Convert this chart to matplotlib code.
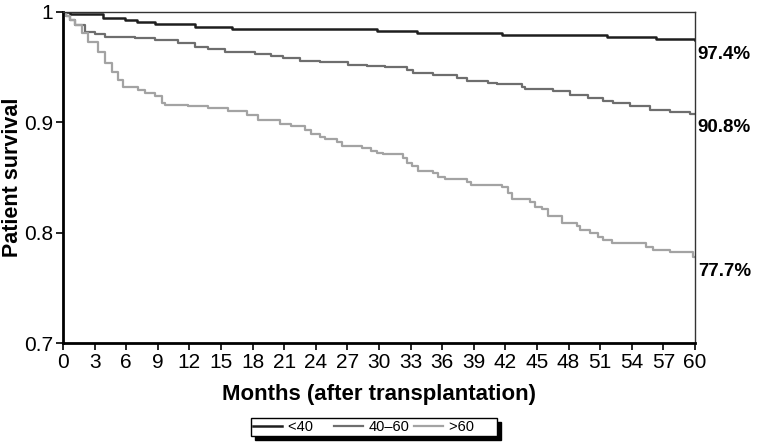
import matplotlib
matplotlib.use("Agg")
import matplotlib.pyplot as plt

plt.rcParams['font.family'] = ['Liberation Sans', 'DejaVu Sans']

# ---- data ----
groups = ["<40", "40\u201360", ">60"]

t_lt40 = [0, 0.66, 3.8, 5.9, 7.0, 8.7, 12.5, 16.0, 29.8, 33.6, 41.7, 51.6, 56.3, 60]
s_lt40 = [1.0, 0.9975, 0.9938, 0.9923, 0.9908, 0.9884, 0.9862, 0.9842, 0.9824, 0.9803,
          0.9787, 0.9767, 0.9748, 0.9745]

t_40_60 = [0, 0.3, 0.7, 1.14, 2.09, 3.04, 3.99, 6.84, 8.74, 10.9, 12.5, 13.8, 15.4, 18.2, 19.7,
           20.9, 22.5, 24.4, 27.1, 28.9, 30.6, 32.7, 33.2, 35.1, 37.4, 38.4, 40.3, 41.2,
           43.6, 43.9, 46.5, 48.1, 49.8, 51.3, 52.2, 53.8, 55.7, 57.6, 59.5, 60]
s_40_60 = [1.0, 0.996, 0.992, 0.9878, 0.9817, 0.9794, 0.9772, 0.9757, 0.9742, 0.9712, 0.9681,
           0.9658, 0.9636, 0.9613, 0.9600, 0.9576, 0.9552, 0.9540, 0.9516, 0.9507, 0.9495,
           0.9471, 0.9441, 0.9425, 0.9401, 0.9374, 0.9356, 0.9344, 0.9319, 0.9299, 0.9281,
           0.9244, 0.9220, 0.9193, 0.9169, 0.9148, 0.9109, 0.9088, 0.9075, 0.9075]

t_gt60 = [0, 0.3, 0.7, 1.14, 1.80, 2.37, 3.32, 3.99, 4.65, 5.22, 5.70, 7.12, 7.79, 8.74, 9.40,
          9.69, 11.87, 13.77, 15.67, 17.47, 18.52, 20.6, 21.6, 23.0, 23.5, 24.4, 24.9,
          26.0, 26.5, 28.4, 29.2, 29.8, 30.4, 32.3, 32.7, 33.1, 33.7, 35.1, 35.6, 36.3,
          38.4, 38.7, 41.7, 42.2, 42.6, 44.3, 44.8, 45.5, 46.0, 47.4, 48.8, 49.1, 50.0,
          50.8, 51.3, 52.1, 55.3, 56.0, 57.6, 59.8, 60]
s_gt60 = [1.0, 0.996, 0.992, 0.9878, 0.9805, 0.9727, 0.9636, 0.9531, 0.9455, 0.9380, 0.9319,
          0.9290, 0.9260, 0.9235, 0.9169, 0.9154, 0.9145, 0.9124, 0.9102, 0.9063, 0.9018,
          0.8982, 0.8964, 0.8928, 0.8889, 0.8867, 0.8846, 0.8822, 0.8783, 0.8762, 0.8740,
          0.8722, 0.8710, 0.8671, 0.8626, 0.8602, 0.8557, 0.8536, 0.8505, 0.8481, 0.8460,
          0.8430, 0.8414, 0.8355, 0.8303, 0.8279, 0.8234, 0.8210, 0.8149, 0.8089, 0.8059,
          0.8023, 0.7998, 0.7962, 0.7932, 0.7902, 0.7866, 0.7842, 0.7821, 0.7780, 0.7775]

end_labels = ["97.4%", "90.8%", "77.7%"]
end_values = [0.974, 0.908, 0.777]

x_ticks = list(range(0, 61, 3))
y_ticks = [0.7, 0.8, 0.9, 1.0]
y_ticklabels = ["0.7", "0.8", "0.9", "1"]

colors = ["#1e1e1e", "#6e6e6e", "#a3a3a3"]
widths = [1.8, 1.6, 1.6]

fig = plt.figure(figsize=(7.6, 4.46), dpi=100)
ax = fig.add_axes([0.0829, 0.2309, 0.8316, 0.7431])

series = [(t_lt40, s_lt40), (t_40_60, s_40_60), (t_gt60, s_gt60)]
handles = []
for (t, s), c, w in zip(series, colors, widths):
    h, = ax.plot(t, s, drawstyle='steps-post', color=c, lw=w)
    handles.append(h)

ax.set_xlim(0, 60)
ax.set_ylim(0.7, 1.0)
ax.set_xticks(x_ticks)
ax.set_yticks(y_ticks)
ax.set_yticklabels(y_ticklabels)
ax.tick_params(axis='both', labelsize=15, direction='out', length=5, width=1.2,
               color='black', pad=2)

for side in ['left', 'bottom']:
    ax.spines[side].set_linewidth(2.0)
    ax.spines[side].set_color('black')
for side in ['top', 'right']:
    ax.spines[side].set_linewidth(1.0)
    ax.spines[side].set_color('#333333')

ax.set_xlabel("Months (after transplantation)", fontsize=16, fontweight='bold', labelpad=9)
fig.text(2 / 760, 1 - 177 / 446, "Patient survival", rotation=90, ha='left', va='center',
         fontsize=15.5, fontweight='bold')

for lab, v in zip(end_labels, end_values):
    ax.annotate(lab, xy=(60, v), xytext=(2, -10), textcoords='offset points',
                ha='left', va='center', fontsize=13.5, fontweight='bold',
                annotation_clip=False)

leg_labels = [groups[0] + " " * 4, groups[1], groups[2] + " " * 5]
leg = fig.legend(handles, leg_labels, loc='center', bbox_to_anchor=(374 / 760, 1 - 427 / 446),
                 ncol=3, fontsize=10.5, frameon=True, fancybox=False, edgecolor='black',
                 framealpha=1, handlelength=2.0, columnspacing=0.3, handletextpad=0.4,
                 borderpad=0.15, borderaxespad=0,
                 shadow={'color': 'black', 'alpha': 1, 'ox': 3, 'oy': -3})
leg.get_frame().set_linewidth(1.0)

fig.savefig("out.png", dpi=100)
